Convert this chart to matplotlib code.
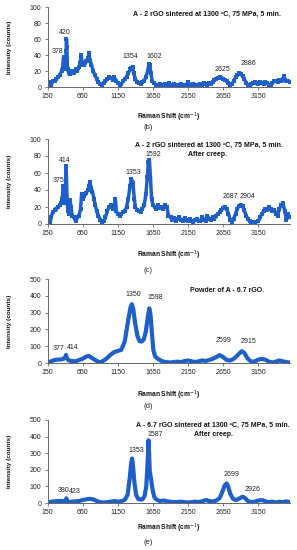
import matplotlib
matplotlib.use('Agg')
import matplotlib.pyplot as plt

plt.rcParams['font.family'] = ['Liberation Sans', 'DejaVu Sans']

# ---------------- data ----------------
x_b = [175, 190, 200, 225, 250, 275, 300, 325, 350, 365, 378, 390, 405, 415, 420, 425, 435, 450, 475,
       500, 525, 550, 575, 600, 615, 630, 645, 660, 675, 700, 725, 740, 755, 775, 800, 825, 850, 875,
       900, 925, 950, 975, 1000, 1025, 1050, 1075, 1100, 1125, 1150, 1175, 1200, 1225, 1250, 1275, 1300,
       1325, 1345, 1360, 1375, 1400, 1425, 1450, 1475, 1500, 1525, 1550, 1575, 1595, 1605, 1620, 1640,
       1660, 1700, 1725, 1750, 1775, 1800, 1825, 1850, 1875, 1900, 1925, 1950, 1975, 2000, 2025, 2050,
       2075, 2100, 2125, 2150, 2175, 2200, 2225, 2250, 2275, 2300, 2325, 2350, 2375, 2400, 2425, 2450,
       2475, 2500, 2525, 2550, 2575, 2600, 2625, 2650, 2675, 2700, 2725, 2750, 2775, 2800, 2825, 2850,
       2875, 2900, 2925, 2950, 2975, 3000, 3025, 3050, 3075, 3100, 3125, 3150, 3175, 3200, 3225, 3250,
       3275, 3300, 3325, 3350, 3375, 3400, 3425, 3450, 3475, 3500, 3515, 3530, 3550, 3575, 3595]
y_b = [3, 6, 2, 7, 8, 10, 12, 15, 20, 25, 37, 22, 28, 45, 60, 50, 22, 18, 16,
       20, 17, 22, 20, 25, 30, 40, 28, 30, 27, 32, 36, 42, 33, 28, 20, 15, 10, 6,
       4, 3, 5, 7, 10, 12, 11, 9, 12, 8, 5, 3, 4, 7, 10, 13, 17,
       22, 24, 25, 18, 10, 6, 5, 4, 6, 8, 12, 20, 29, 28, 17, 8,
       5, 3, 2, 4, 3, 2, 4, 3, 5, 3, 2, 4, 3, 3, 2, 4,
       3, 2, 3, 6, 3, 2, 4, 3, 2, 3, 4, 3, 5, 4, 3, 5,
       4, 6, 9, 10, 11, 12, 11, 10, 9, 8, 5, 3, 4, 8, 12, 15,
       17, 16, 14, 10, 5, 3, 2, 4, 5, 6, 5, 4, 6, 5, 4, 6,
       5, 3, 2, 5, 7, 8, 6, 9, 7, 10, 14, 9, 7, 8, 6]

x_c = [175, 190, 200, 225, 250, 275, 300, 325, 345, 360, 375, 385, 395, 405, 414, 420, 428, 440, 455,
       470, 485, 500, 525, 550, 575, 600, 620, 635, 650, 675, 700, 725, 740, 755, 770, 790, 810, 830,
       850, 875, 900, 925, 950, 975, 1000, 1025, 1050, 1075, 1100, 1115, 1130, 1150, 1175, 1200, 1225,
       1250, 1275, 1300, 1325, 1345, 1365, 1385, 1400, 1425, 1450, 1475, 1500, 1525, 1550, 1570, 1585,
       1600, 1615, 1630, 1650, 1675, 1700, 1725, 1750, 1775, 1800, 1825, 1850, 1870, 1900, 1925, 1950,
       1975, 2000, 2025, 2050, 2075, 2100, 2125, 2150, 2175, 2200, 2225, 2250, 2275, 2300, 2325, 2350,
       2375, 2400, 2425, 2450, 2475, 2500, 2525, 2550, 2575, 2600, 2625, 2650, 2675, 2700, 2725, 2750,
       2775, 2800, 2825, 2850, 2875, 2900, 2925, 2950, 2975, 3000, 3025, 3050, 3100, 3150, 3175, 3200,
       3225, 3250, 3275, 3300, 3325, 3350, 3375, 3400, 3425, 3450, 3475, 3500, 3525, 3550, 3575, 3595]
y_c = [5, 2, 8, 14, 16, 18, 20, 22, 25, 30, 45, 35, 25, 40, 68, 55, 30, 15, 12,
       28, 20, 10, 8, 3, 8, 10, 18, 35, 30, 33, 36, 40, 45, 50, 42, 38, 30, 22,
       15, 10, 5, 2, 3, 8, 15, 20, 22, 18, 20, 30, 15, 12, 10, 12, 14,
       15, 20, 30, 45, 53, 48, 30, 20, 16, 15, 14, 18, 22, 35, 55, 73,
       75, 55, 30, 22, 20, 18, 22, 19, 20, 18, 22, 20, 10, 8, 5, 7,
       4, 6, 8, 5, 4, 7, 5, 3, 6, 4, 2, 5, 6, 4, 3, 8,
       5, 4, 10, 6, 5, 8, 6, 10, 12, 14, 16, 19, 20, 18, 12, 5,
       2, 6, 12, 18, 21, 22, 21, 16, 10, 6, 3, 2, 2, 3, 8, 12,
       15, 18, 16, 20, 18, 15, 17, 12, 10, 18, 22, 25, 15, 5, 12, 8]

x_d = [175, 200, 250, 300, 350, 380, 400, 414, 425, 450, 500, 550, 600, 650, 700, 740, 780, 820, 860,
       900, 925, 950, 1000, 1050, 1100, 1150, 1200, 1250, 1300, 1330, 1350, 1370, 1400, 1430, 1460,
       1490, 1520, 1550, 1575, 1598, 1615, 1635, 1655, 1680, 1720, 1760, 1800, 1850, 1900, 1950, 2000,
       2050, 2100, 2150, 2200, 2250, 2300, 2350, 2400, 2450, 2500, 2550, 2599, 2650, 2700, 2750, 2800,
       2850, 2900, 2915, 2950, 3000, 3050, 3100, 3150, 3200, 3250, 3300, 3350, 3400, 3450, 3500, 3550, 3595]
y_d = [5, 10, 18, 20, 22, 25, 35, 48, 30, 15, 12, 10, 18, 25, 38, 42, 30, 20, 10,
       5, 8, 15, 30, 50, 65, 72, 78, 130, 260, 330, 350, 320, 230, 160, 130,
       128, 140, 190, 270, 325, 290, 180, 80, 40, 25, 15, 8, 5, 3, 6, 8,
       5, 12, 15, 10, 6, 10, 15, 12, 18, 25, 35, 47, 35, 18, 15, 25,
       45, 65, 70, 60, 25, 8, 10, 20, 25, 20, 8, 3, 8, 15, 10, 5, 3]

x_e = [175, 200, 250, 300, 350, 380, 400, 420, 430, 450, 500, 550, 600, 650, 700, 750, 800, 850,
       900, 950, 1000, 1050, 1100, 1150, 1200, 1250, 1290, 1320, 1340, 1353, 1365, 1385, 1410, 1440,
       1475, 1500, 1530, 1555, 1575, 1587, 1595, 1605, 1625, 1645, 1670, 1700, 1750, 1800, 1850, 1900,
       1950, 2000, 2050, 2100, 2150, 2200, 2250, 2300, 2350, 2400, 2450, 2500, 2550, 2600, 2640, 2670,
       2699, 2720, 2750, 2790, 2830, 2870, 2926, 2960, 3000, 3050, 3100, 3150, 3200, 3250, 3300, 3350,
       3400, 3450, 3500, 3550, 3595]
y_e = [5, 8, 10, 12, 12, 10, 5, 28, 8, 5, 8, 10, 12, 18, 22, 25, 22, 12,
       5, 3, 5, 8, 12, 8, 10, 20, 50, 150, 240, 268, 230, 130, 50, 25,
       20, 22, 40, 100, 250, 378, 300, 190, 140, 80, 35, 20, 12, 15, 10, 8,
       5, 6, 8, 5, 3, 5, 8, 6, 10, 18, 12, 8, 15, 30, 70, 105,
       118, 100, 55, 25, 18, 25, 38, 30, 12, 5, 8, 15, 18, 10, 5, 8,
       3, 8, 5, 10, 5]

xticks = [150, 650, 1150, 1650, 2150, 2650, 3150]
yticks_low = [0, 20, 40, 60, 80, 100]
yticks_high = [0, 100, 200, 300, 400, 500]

titles = [["A - 2 rGO sintered at 1300 ºC, 75 MPa, 5 min."],
          ["A - 2 rGO sintered at 1300 ºC, 75 MPa, 5 min.", "After creep."],
          ["Powder of A - 6.7 rGO."],
          ["A - 6.7 rGO sintered at 1300 ºC, 75 MPa, 5 min.", "After creep."]]
captions = ["(b)", "(c)", "(d)", "(e)"]
peak_labels = [["420", "378", "1354", "1602", "2625", "2886"],
               ["414", "375", "1353", "1592", "2687", "2904"],
               ["377", "414", "1350", "1598", "2599", "2915"],
               ["380", "423", "1353", "1587", "2699", "2926"]]

# ---------------- layout (pixels) ----------------
W, H = 297, 550
fig = plt.figure(figsize=(W / 100, H / 100), dpi=100)
LEFT, RIGHT = 47.5, 290
panel_tb = [(7, 87), (139, 224), (279, 363), (420, 503)]
xlabel_y = [117, 255, 395, 528]
caption_y = [128, 271, 407, 542]
title_pos = [[(281, 14, 'right')],
             [(209, 145, 'center'), (207, 154, 'center')],
             [(227, 290, 'center')],
             [(213, 425, 'center'), (213, 434, 'center')]]
peak_pos = [[(65, 32), (57.7, 52), (130, 57), (154, 56), (222.7, 70), (248.3, 63.5)],
            [(65, 161), (58.3, 180), (153.5, 155), (153, 155), (230, 196), (247.7, 197)],
            [(59, 349), (72.7, 347.5), (133.3, 294.5), (155.3, 297.5), (223.3, 341), (248.3, 341.5)],
            [(63.3, 490), (74.7, 491.7), (136, 450), (155.3, 434), (232, 475), (252.3, 489.5)]]
peak_pos[1][2] = (133, 172)

color = '#1f5fc8'
data = [(x_b, y_b, yticks_low), (x_c, y_c, yticks_low), (x_d, y_d, yticks_high), (x_e, y_e, yticks_high)]

for i, (xs, ys, yt) in enumerate(data):
    top, bot = panel_tb[i]
    ax = fig.add_axes([LEFT / W, 1 - bot / H, (RIGHT - LEFT) / W, (bot - top) / H])
    if i < 2:
        ax.plot(xs, ys, color=color, lw=2.5, marker='s', ms=2.6, mew=0, solid_joinstyle='round')
    else:
        ax.plot(xs, ys, color=color, lw=3.0, solid_joinstyle='round', solid_capstyle='round')
    ax.set_xlim(150, 3600)
    ax.set_ylim(yt[0], yt[-1])
    ax.set_xticks(xticks)
    ax.set_yticks(yt)
    for s in ['top', 'right']:
        ax.spines[s].set_visible(False)
    for s in ['left', 'bottom']:
        ax.spines[s].set_color('#666666')
        ax.spines[s].set_linewidth(0.7)
    ax.tick_params(axis='both', labelsize=5, colors='#666666', labelcolor='#222222',
                   length=2, width=0.6, pad=2.5)
    # title lines
    for line, (tx, ty, ha) in zip(titles[i], title_pos[i]):
        fig.text(tx / W, 1 - ty / H, line, ha=ha, va='center', fontsize=5.0,
                 fontweight='bold', color='#111111')
    # peak labels
    for lab, (px, py) in zip(peak_labels[i], peak_pos[i]):
        fig.text(px / W, 1 - py / H, lab, ha='center', va='center', fontsize=5, color='#222222')
    # axis labels
    fig.text(10 / W, 1 - ((top + bot) / 2) / H, "Intensity (counts)", rotation=90,
             ha='center', va='center', fontsize=4.6, fontweight='bold', color='#111111')
    fig.text(((LEFT + RIGHT) / 2) / W, 1 - xlabel_y[i] / H, "Raman Shift (cm$^{-1}$)",
             ha='center', va='center', fontsize=4.8, fontweight='bold', color='#111111')
    fig.text(148 / W, 1 - caption_y[i] / H, captions[i], ha='center', va='center',
             fontsize=5.5, color='#222222')

fig.savefig('out.png', dpi=100)
